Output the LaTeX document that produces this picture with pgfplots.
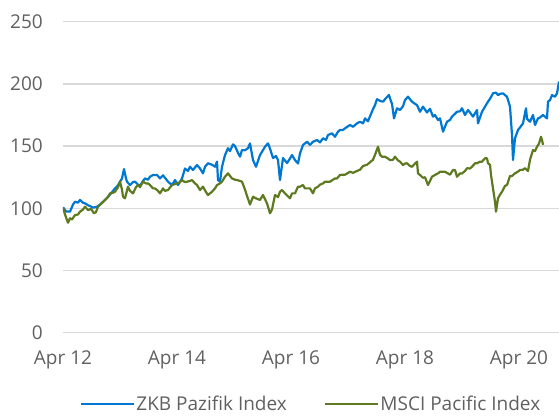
\documentclass[border=0pt]{standalone}
\usepackage{pgfplots}
\pgfplotsset{compat=1.18}
\usepackage{fontspec}
\setmainfont{Open Sans}
\definecolor{zkbblue}{RGB}{0,120,210}
\definecolor{msciolive}{RGB}{94,122,32}
\definecolor{txtgray}{RGB}{96,96,96}
\definecolor{gridgray}{RGB}{217,217,217}
\begin{document}
\begin{tikzpicture}
\useasboundingbox (-63pt,-85.3pt) rectangle (496pt,332.7pt);
\begin{axis}[
  at={(0pt,0pt)}, anchor=south west,
  scale only axis, width=496pt, height=311pt,
  xmin=63, xmax=559, ymin=0, ymax=250,
  axis line style={draw=none},
  ytick={0,50,100,150,200,250},
  xtick={63,177,291,405,519},
  xticklabels={Apr 12, Apr 14, Apr 16, Apr 18, Apr 20},
  major tick length=0pt,
  ymajorgrids, grid style={gridgray, line width=1.5pt},
  tick label style={font=\fontsize{19}{23}\selectfont, text=txtgray},
  /pgf/number format/assume math mode=true,
  yticklabel style={anchor=east, inner sep=0pt, xshift=-20pt},
  xticklabel style={anchor=north, inner sep=0pt, yshift=-17.5pt},
  legend columns=2,
  legend style={at={(axis description cs:0.5,0)}, anchor=center, yshift=-71.3pt,
    draw=none, fill=none, font=\fontsize{19}{23}\selectfont, text=txtgray,
    nodes={inner sep=1.5pt},
    /tikz/every even column/.append style={column sep=36pt}},
  legend image code/.code={\draw[#1, line width=1.6pt] (0pt,0pt) -- (53pt,0pt);},
]
\addplot[zkbblue, line width=2.2pt, line join=round] coordinates {
(63,100.8)(66,97.5)(70,97.3)(73,103)(75,105.3)(78,104.5)(80,106.7)(83,104.5)(85,104)(88,102.5)
(90,101.8)(93,100.5)(97,101.3)(100,103)(105,106.7)(110,111)(115,116)(118,118.5)(120,121.4)(122,124)
(124,131.6)(126,124)(127,121.4)(130,118.7)(133,121)(135,121.4)(138,119)(140,118)(143,122)(145,124)
(148,123)(150,125.4)(153,126.8)(157,126.8)(160,124)(163,126.5)(166,123.5)(168,121.4)(172,118.7)(175,122.7)
(178,118.7)(182,124)(185,132)(188,130)(190,133.4)(193,130.8)(197,134.8)(200,132)(203,128.1)(205,133.4)
(208,136.2)(212,135)(215,133.4)(217,137.5)(218,122.7)(220,121.4)(222,133.4)(225,142.8)(228,148.3)(230,146)
(233,151.4)(235,150)(238,144.6)(240,141.5)(242,146.8)(245,146.7)(248,148.3)(250,152.2)(253,138.8)(256,133.4)
(260,142.8)(265,149.5)(268,152.2)(270,148)(273,140.4)(276,142)(278,138.8)(280,122.7)(283,140.4)(287,136.4)
(290,140)(292,142.8)(295,138.8)(298,136)(300,144.2)(303,150.9)(307,153.5)(310,151)(313,153.5)(317,154.9)
(320,153)(323,156.3)(326,155)(328,158.9)(332,160.3)(335,157.5)(338,161.6)(340,163)(343,163)(345,164.3)
(350,167)(353,165.5)(357,168.3)(360,169.6)(363,168.3)(365,172.3)(368,170)(370,174)(373,179.7)(375,183)
(377,187.7)(380,186.4)(383,185.7)(385,187.7)(389,191.1)(391,186)(392,184)(394,172.3)(397,180.4)(400,179)
(403,182)(405,187)(408,189.7)(412,185.7)(415,184)(417,183)(420,177.6)(423,181.7)(427,177)(430,180)
(433,173.7)(435,175)(438,171)(440,172.3)(443,161.6)(447,169.6)(450,171)(452,173.7)(457,177.6)(460,178)
(462,180.4)(465,175)(468,179)(470,177)(473,173.7)(477,179)(478,168.3)(480,173)(482,177.6)(485,181.7)
(488,185.7)(490,188)(493,192.4)(496,193)(498,191)(500,192)(503,192.4)(505,191)(507,189.7)(510,181.7)
(512,159)(513,138.9)(515,156.3)(518,163)(520,165)(523,168.3)(526,180.4)(527,172)(530,169.6)(533,175)
(535,167)(538,172.3)(540,173)(543,175)(547,172.3)(548,185.7)(550,187)(552,191)(555,189.7)(557,192.4)
(559,201.9)
};
\addlegendentry{ZKB Pazifik Index}
\addplot[msciolive, line width=2.2pt, line join=round] coordinates {
(63,100.8)(65,95)(68,88.4)(70,92)(72,91)(75,94.6)(78,95)(80,97.3)(83,99)(85,101.3)
(88,98.6)(91,99.5)(94,96)(96,97)(98,101.3)(101,103.5)(105,106.7)(108,109)(110,112)(113,112.5)
(115,113.3)(118,117)(120,121.4)(122,115)(123,109.3)(125,108)(128,117.4)(130,114)(133,112)(136,117)
(138,118.7)(140,117)(143,121.4)(146,120)(148,120)(150,118.7)(153,116)(155,116)(158,114)(160,112)
(163,116)(165,114)(168,114.7)(172,118.7)(177,120)(180,121)(182,122.7)(185,121)(187,121.4)(190,122)
(192,122.7)(195,120)(197,118.7)(200,114.7)(203,117.4)(206,113)(208,110.7)(212,113.3)(215,116)(217,118.7)
(220,120)(222,121.4)(225,125.4)(228,128.1)(230,126)(232,124)(235,123)(237,122.7)(240,122)(242,121.4)
(245,115)(247,110)(250,103)(253,109.3)(256,108)(260,106.7)(263,110.7)(267,104)(270,96)(272,99)
(275,110.7)(278,109)(280,113.3)(282,114.7)(285,112)(290,108)(292,112)(295,112)(298,117.4)(300,117.4)
(303,118.7)(305,116)(307,116)(310,116)(313,112)(315,116)(318,117.4)(320,119)(323,120)(325,121.4)
(330,121.4)(335,124)(337,124)(340,126.8)(343,127)(345,127)(350,129.4)(353,128.5)(357,130)(360,131)
(363,134)(367,135)(370,137)(373,139)(375,143)(378,149.5)(380,143)(382,141.5)(385,141.5)(388,140)
(390,138.8)(393,139)(395,141.5)(398,138.5)(400,137.5)(403,134.8)(405,136)(407,136.2)(410,134)(412,133.4)
(415,136)(417,137.5)(418,128)(420,126.8)(423,124.5)(425,125)(428,118.7)(430,122)(432,125.4)(435,126.8)
(438,128.1)(440,129.4)(443,129.4)(445,129.4)(448,128)(450,127)(453,130.8)(455,130.8)(457,125.4)(460,128)
(462,128)(465,130)(467,132.2)(470,132)(472,133.4)(475,136.2)(477,136.2)(480,137.5)(482,137.5)(485,140.2)
(487,140.2)(488,136.2)(490,135)(491,126.8)(493,116)(495,105.3)(496,97.3)(498,108)(500,111)(502,113.3)
(505,118)(507,118.7)(510,126)(512,126)(515,128.1)(518,129.5)(520,130.8)(523,131)(525,132.2)(528,130)
(530,139)(533,146.8)(535,146)(537,149.5)(539,152)(541,157.5)(542,155)(543,151)
};
\addlegendentry{MSCI Pacific Index}
\end{axis}
\end{tikzpicture}
\end{document}
